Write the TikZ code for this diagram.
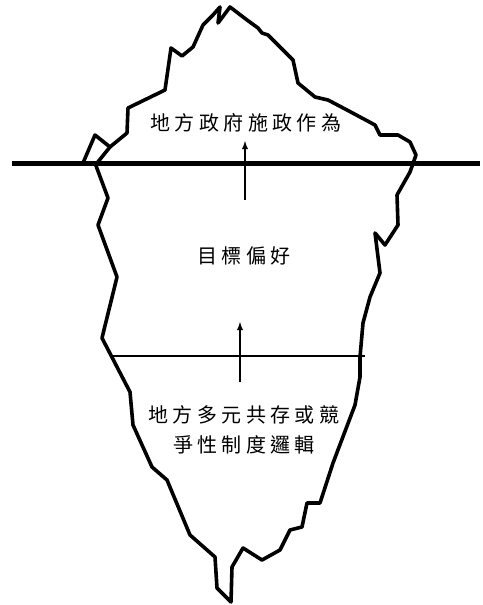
\documentclass[tikz,border=0pt]{standalone}
\usepackage{fontspec}
\newfontfamily\cjk[LetterSpace=22]{Noto Sans CJK TC}
\begin{document}
\begin{tikzpicture}[x=1pt,y=-1pt]
\tikzstyle{every node}=[font=\cjk\fontsize{20}{30}\selectfont, inner sep=0pt, align=center]
\tikzstyle{berg}=[line width=3.6pt, line join=round]
\tikzstyle{water}=[line width=5pt]
\tikzstyle{layer}=[line width=1.1pt]
\tikzstyle{up}=[-latex, line width=1.8pt]
\useasboundingbox (0,0) rectangle (482,605);

% the iceberg
\draw[berg] (97,163) -- (110,147) -- (127,133) -- (128,108) -- (165,90)
  -- (171,48) -- (182,56) -- (193,47) -- (203,25) -- (213,15) -- (220,7)
  -- (218,23) -- (230,7) -- (247,20) -- (258,28) -- (262,33) -- (268,35)
  -- (280,47) -- (293,60) -- (298,83) -- (315,97) -- (328,100) -- (347,110)
  -- (375,125) -- (380,135) -- (398,135) -- (410,142) -- (416,155)
  -- (410,172) -- (397,195) -- (398,225) -- (385,245) -- (375,233)
  -- (380,273) -- (370,297) -- (363,323) -- (360,357) -- (360,377)
  -- (355,405) -- (333,463) -- (320,503) -- (307,503) -- (302,527)
  -- (290,530) -- (280,550) -- (262,560) -- (243,548) -- (232,567)
  -- (231,602) -- (217,588) -- (215,557) -- (190,535) -- (167,480)
  -- (152,467) -- (133,425) -- (130,392) -- (102,338) -- (117,277)
  -- (98,225) -- (108,198) -- (95,163);
\draw[berg] (83,163) -- (95,135) -- (110,147);

% water line and lower layer
\draw[water] (12,163.5) -- (480,163.5);
\draw[layer] (110,356) -- (365,356);

% texts
\node (act) at (246,123) {地方政府施政作為};
\node (pref) at (244,256) {目標偏好};
\node (logic) at (244,430) {地方多元共存或競\\爭性制度邏輯};

% arrows
\coordinate (a1s) at (245,200);
\coordinate (a1e) at (245,141);
\coordinate (a2s) at (240,382);
\coordinate (a2e) at (240,322);
\draw[up] (a1s) -- (a1e);
\draw[up] (a2s) -- (a2e);
\end{tikzpicture}
\end{document}
